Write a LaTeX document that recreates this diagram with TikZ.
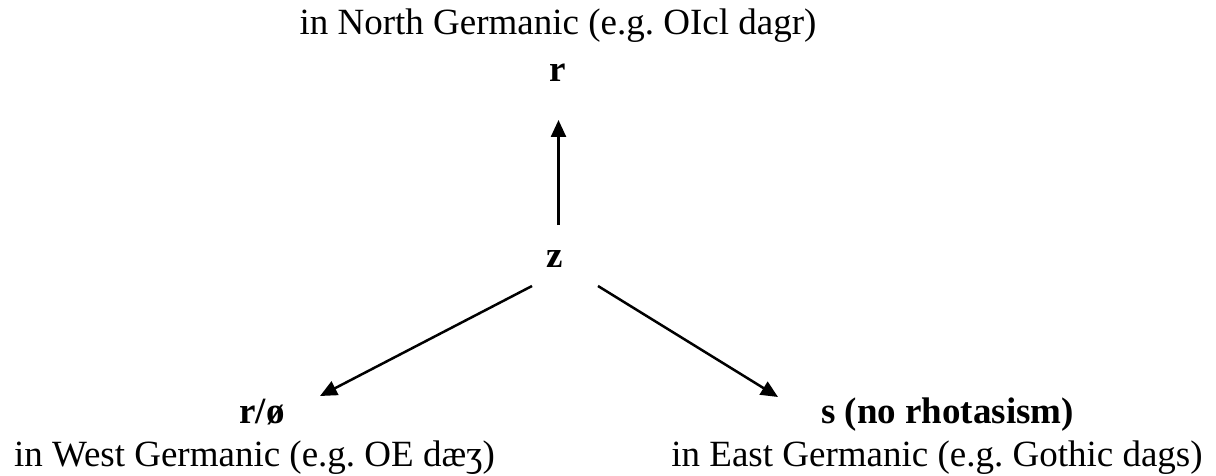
\documentclass[tikz,border=0pt]{standalone}
\usepackage{fontspec}
\setmainfont{Liberation Serif}
\usetikzlibrary{arrows.meta}
\begin{document}
\frenchspacing
\begin{tikzpicture}[x=1pt,y=-1pt,
  lbl/.style={anchor=base,inner sep=0pt,font=\fontsize{37}{43}\selectfont},
  head/.style={lbl,font=\fontsize{37}{43}\selectfont\bfseries},
  arr/.style={line width=2.5pt,-{Triangle[length=17pt,width=15pt]}}]
  \useasboundingbox (0,0) rectangle (1216,476);
  % north branch
  \node[lbl]  (north) at (558,35) {in North Germanic (e.g. OIcl dagr)};
  \node[head] (r)     at (557.5,82) {r};
  % source
  \node[head] (z)     at (555,267) {z};
  % west branch
  \node[head] (rw)    at (262,423) {r/ø};
  \node[lbl]  (west)  at (254.5,466) {in West Germanic (e.g. OE dæʒ)};
  % east branch
  \node[head] (s)     at (947.5,423) {s (no rhotasism)};
  \node[lbl]  (east)  at (937,466) {in East Germanic (e.g. Gothic dags)};
  % arrow end points
  \coordinate (zN) at (558.5,225);
  \coordinate (rS) at (558.5,120);
  \coordinate (zW) at (532,286);
  \coordinate (rwN) at (320,396);
  \coordinate (zE) at (598,286);
  \coordinate (sN) at (778,397);
  \draw[arr] (zN) -- (rS);
  \draw[arr] (zW) -- (rwN);
  \draw[arr] (zE) -- (sN);
\end{tikzpicture}
\end{document}
